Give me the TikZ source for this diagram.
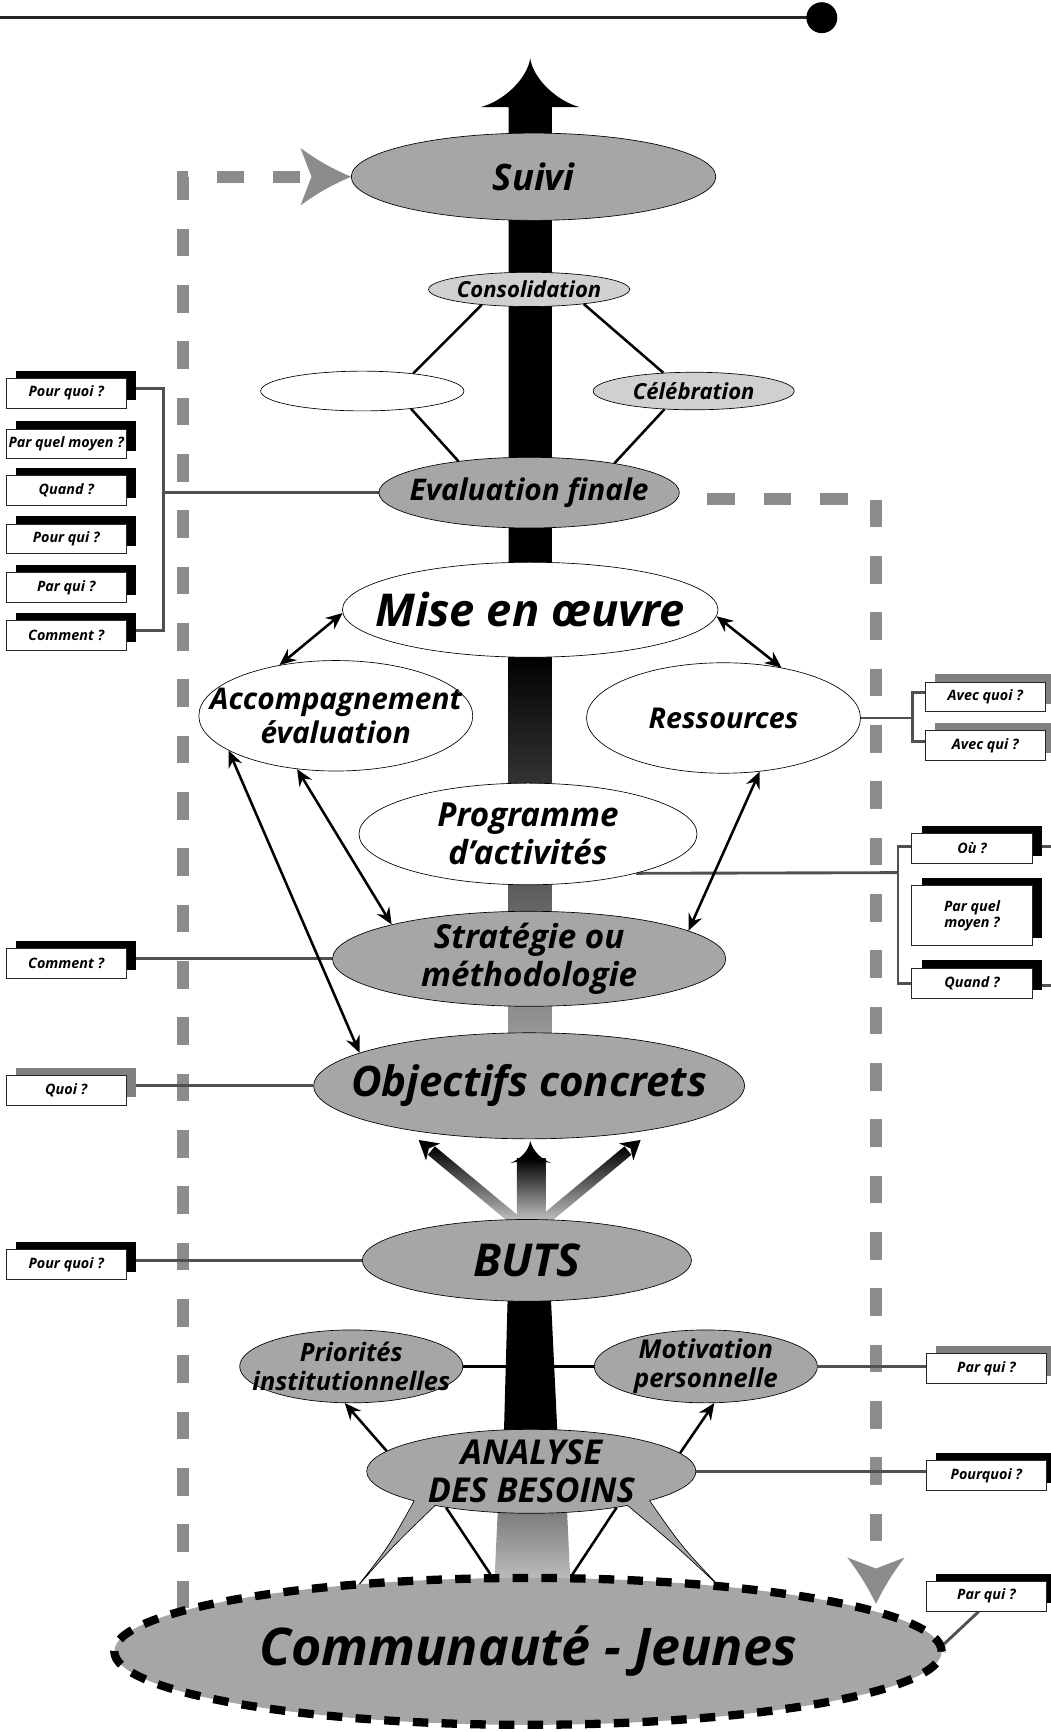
\documentclass[tikz,border=0pt]{standalone}
\usepackage{fontspec}
\setmainfont{Open Sans}
\usetikzlibrary{arrows.meta,shapes.geometric,shadows,backgrounds}
\definecolor{ovalgray}{RGB}{166,166,166}
\definecolor{palegray}{RGB}{208,208,208}
\definecolor{loopgray}{RGB}{140,140,140}
\definecolor{linkgray}{RGB}{80,80,80}
\definecolor{shadegray}{RGB}{128,128,128}
\newcommand{\fsz}[1]{\fontsize{#1pt}{\fpeval{1.13*#1}pt}\selectfont}
\tikzset{%
    oval/.style={ellipse, draw, line width=0.6pt, inner xsep=-80pt, inner ysep=-20pt,
        align=center, font=\bfseries\itshape\fsz{#1}},
    grayoval/.style={oval=#1, fill=ovalgray},
    paleoval/.style={oval=#1, fill=palegray},
    whiteoval/.style={oval=#1, fill=white},
    ovalsize/.style 2 args={minimum width=#1pt, minimum height=#2pt},
    qbox/.style={rectangle, draw=black!85, line width=0.9pt, fill=white,
        minimum width=109pt, minimum height=27pt, inner sep=1pt, align=center,
        font=\bfseries\itshape\fsz{13}},
    qdark/.style={qbox, drop shadow={shadow xshift=9pt, shadow yshift=7pt, fill=black, opacity=1}},
    qpale/.style={qbox, drop shadow={shadow xshift=9pt, shadow yshift=7pt, fill=shadegray, opacity=1}},
    link/.style={draw=linkgray, line width=2.6pt},
    bond/.style={line width=2.3pt},
    duo/.style={bond, {Stealth[length=15pt,width=13pt,inset=5pt]}-{Stealth[length=15pt,width=13pt,inset=5pt]}},
    uni/.style={bond, -{Stealth[length=15pt,width=13pt,inset=5pt]}},
    loopline/.style={draw=loopgray, line width=11pt, dash pattern=on 25pt off 26pt},
}

\begin{document}
\begin{tikzpicture}[x=1pt,y=-1pt]
    \useasboundingbox (0,0) rectangle (951,1568);
    \draw[line width=3pt, black!85] (0,16) -- (744,16);
    \fill (744,16) circle (14pt);

    % ovals
    \node[grayoval=33, ovalsize={330}{79}] (suivi) at (483,160) {Suivi};
    \node[paleoval=20, ovalsize={182}{31}] (cons) at (479,262) {Consolidation};
    \node[whiteoval=20, ovalsize={184}{36}] (blank) at (328,354) {};
    \node[paleoval=20, ovalsize={182}{34}] (cele) at (628,354) {Célébration};
    \node[grayoval=27, ovalsize={272}{64}] (eval) at (479,446) {Evaluation finale};
    \node[whiteoval=41, ovalsize={340}{86}] (mise) at (480,552) {Mise en œuvre};
    \node[whiteoval=27, ovalsize={248}{100}] (acc) at (304,648) {Accompagnement\\évaluation};
    \node[whiteoval=26, ovalsize={248}{100}] (res) at (655,650) {Ressources};
    \node[whiteoval=30, ovalsize={306}{92}] (prog) at (478,755) {Programme\\d’activités};
    \node[grayoval=30, ovalsize={356}{86}] (strat) at (479,868) {Stratégie ou\\méthodologie};
    \node[grayoval=38, ovalsize={390}{96}] (obj) at (479,983) {Objectifs concrets};
    \node[grayoval=41, ovalsize={298}{74}] (buts) at (477,1141) {BUTS};
    \node[grayoval=23, ovalsize={202}{66}] (prio) at (318,1237) {Priorités\\institutionnelles};
    \node[grayoval=23.5, ovalsize={202}{66}] (moti) at (639,1237) {Motivation\\personnelle};
    \node[grayoval=31, ovalsize={298}{76}] (anb) at (481,1332) {};

    % spikes of the analysis oval
    \fill[ovalgray] (378,1352) -- (375,1358.7) .. controls (352,1400) .. (323,1437)
        .. controls (355.5,1400) .. (394,1362.8) -- (393,1355) -- cycle;
    \draw[line width=0.6pt] (375,1358.7) .. controls (352,1400) .. (323,1437)
        .. controls (355.5,1400) .. (394,1362.8);
    \fill[ovalgray] (585,1352) -- (588,1358.4) .. controls (617,1400) .. (652,1437)
        .. controls (612.5,1400) .. (568,1362.8) -- (569,1355) -- cycle;
    \draw[line width=0.6pt] (588,1358.4) .. controls (617,1400) .. (652,1437)
        .. controls (612.5,1400) .. (568,1362.8);
    \node[font=\bfseries\itshape\fsz{31}, align=center] (anbtxt) at (anb) {ANALYSE\\DES BESOINS};

    \node[ellipse, fill=ovalgray, draw, line width=7.5pt, dash pattern=on 14pt off 12pt,
        minimum width=749pt, minimum height=133pt, inner xsep=-200pt, inner ysep=-20pt,
        font=\bfseries\itshape\fsz{47}] (comm) at (478,1495) {Communauté - Jeunes};

    % question boxes
    \node[qdark] (lq1) at (60,356) {Pour quoi ?};
    \node[qdark] (lq2) at (60,402) {Par quel moyen ?};
    \node[qdark] (lq3) at (60,444) {Quand ?};
    \node[qdark] (lq4) at (60,488) {Pour qui ?};
    \node[qdark] (lq5) at (60,532) {Par qui ?};
    \node[qdark] (lq6) at (60,575) {Comment ?};
    \node[qdark] (lq7) at (60,872) {Comment ?};
    \node[qpale] (lq8) at (60,987) {Quoi ?};
    \node[qdark] (lq9) at (60,1145) {Pour quoi ?};
    \node[qpale] (rq1) at (892,631) {Avec quoi ?};
    \node[qpale] (rq2) at (892,675) {Avec qui ?};
    \node[qdark] (rq3) at (880,768) {Où ?};
    \node[qdark, minimum height=54pt] (rq4) at (880,829) {Par quel\\moyen ?};
    \node[qdark] (rq5) at (880,890) {Quand ?};
    \node[qpale] (rq6) at (893,1239) {Par qui ?};
    \node[qdark] (rq7) at (893,1336) {Pourquoi ?};
    \node[qdark] (rq8) at (893,1445) {Par qui ?};

    \draw[bond] (cons.198) -- (blank.19.6);
    \draw[bond] (blank.340.1) -- (eval.156);
    \draw[bond] (cons.345.8) -- (cele.149);
    \draw[bond] (cele.212) -- (eval.19.7);
    \draw[duo] (mise.181.7) -- (acc.138);
    \draw[duo] (mise.358.3) -- (res.41);
    \draw[duo] (acc.234) -- (strat.166.7);
    \draw[duo] (res.304) -- (strat.10.3);
    \draw[duo] (acc.198.6) -- (obj.169.3);
    \draw[uni] (anb.172.6) -- (prio.260);
    \draw[uni] (anb.7.7) -- (moti.283);
    \draw[bond] (anb.203.2) -- (comm.116.9);
    \draw[bond] (anb.337) -- (comm.60.6);

    \begin{scope}[on background layer]
        % feedback loops
        \coordinate (loopL) at (166,1456);
        \coordinate (loopR) at (793,1452);
        \draw[loopline] (loopL) |- ([xshift=-34pt]suivi.west);
        \draw[loopline, dash phase=26pt] ([yshift=-6pt]eval.east) -| ([yshift=31pt]loopR);
        \fill[loopgray] (318,160) .. controls (302,153.5) and (287,145) .. (272,134) -- (282,160)
            -- (272,186) .. controls (287,175) and (302,166.5) .. (318,160) -- cycle;
        \fill[loopgray] (793,1452) .. controls (786,1437.5) and (777.5,1423.5) .. (767,1410)
            -- (793,1420) -- (819,1410) .. controls (808.5,1423.5) and (800,1437.5) .. (793,1452) -- cycle;
        % spine
        \fill (460.5,97) -- (435,97) .. controls (455,92) and (477,72) .. (480,53)
            .. controls (483,72) and (505,92) .. (525,97) -- (499.5,97) -- (499.5,596)
            -- (460.5,596) -- cycle;
        \shade[top color=black, bottom color=black!40] (460.5,592) rectangle (499.5,940);
        \fill (460,1160) -- (498,1160) -- (505,1305) -- (456,1305) -- cycle;
        \shade[top color=black!55, bottom color=black!20] (451,1360) -- (513,1360)
            -- (517,1445) -- (447,1445) -- cycle;
        % buts -> objectifs
        \shade[top color=black, bottom color=black!20] (468,1049) rectangle (494,1108);
        \fill (480,1033) .. controls (483,1043) and (490,1049) .. (499,1053) -- (481,1049)
            -- (462,1053) .. controls (471,1049) and (478,1043) .. (480,1033) -- cycle;
        \shade[top color=black, bottom color=black!20] (471.2,1102.2) -- (393.7,1037.8)
            -- (387.3,1045.4) -- (464.8,1109.9) -- cycle;
        \fill (379,1032) -- (398.5,1035.2) -- (388.2,1039.7) -- (385.7,1050.6) -- cycle;
        \shade[top color=black, bottom color=black!20] (487.8,1102.2) -- (565.3,1037.8)
            -- (571.7,1045.4) -- (494.2,1109.9) -- cycle;
        \fill (580,1032) -- (560.5,1035.2) -- (570.8,1039.7) -- (573.3,1050.6) -- cycle;
        % question links
        \coordinate (lbrk) at (148,446);
        \draw[link] ([yshift=4pt]lq1.east) -| (lbrk) |- ([yshift=4pt]lq6.east);
        \draw[link] (eval.west) -- (lbrk);
        \draw[link] ([yshift=4pt]lq7.east) -- (strat.west);
        \draw[link] ([yshift=4pt]lq8.east) -- (obj.west);
        \draw[link] ([yshift=4pt]lq9.east) -- (buts.west);
        \coordinate (rbrk1) at (826,650);
        \draw[link] ([yshift=4pt]rq1.west) -| (rbrk1) |- ([yshift=4pt]rq2.west);
        \draw[link] (res.east) -- (rbrk1);
        \coordinate (rbrk2) at (813,790);
        \draw[link] ([yshift=2pt]rq3.west) -| (rbrk2) |- (rq5.west);
        \draw[link] (prog.340.3) -- (rbrk2);
        \draw[link] ([yshift=2pt]rq3.east) -- ++(20,0);
        \draw[link] ([yshift=-2pt]rq5.east) -- ++(20,0);
        \draw[link] (moti.east) -- (moti.east -| rq6.west);
        \draw[link] (anb.east) -- (anb.east -| rq7.west);
        \draw[link] ([xshift=-7pt]rq8.south) -- (comm.1);
        \draw[bond] (prio.east) -- (moti.west);
    \end{scope}
\end{tikzpicture}
\end{document}
